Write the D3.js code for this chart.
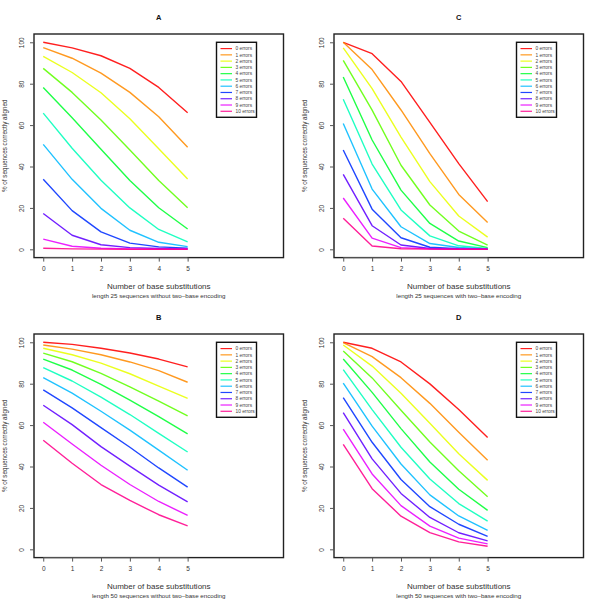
<!DOCTYPE html>
<html>
<head>
<meta charset="utf-8">
<script src="https://cdn.jsdelivr.net/npm/d3@7"></script>
<style>
  body { margin: 0; background: #fff; }
  svg { display: block; font-family: "Liberation Sans", Arial, sans-serif; }
</style>
</head>
<body>
<svg id="chart" width="600" height="600"></svg>
<script>
// ---- data ----
const substitutions = [0, 1, 2, 3, 4, 5];
const errorLabels = ["0 errors", "1 errors", "2 errors", "3 errors", "4 errors", "5 errors",
  "6 errors", "7 errors", "8 errors", "9 errors", "10 errors"];
const yTicks = [0, 20, 40, 60, 80, 100];

// % correctly aligned, one row per error count (0..10), columns = substitutions 0..5
const len25NoEnc = [
  [100, 97.3, 93.5, 87.4, 78.2, 66.0],
  [97.4, 92.3, 85.1, 75.8, 64.0, 49.3],
  [93.2, 85.4, 75.6, 63.1, 48.6, 34.0],
  [87.4, 75.8, 62.5, 48.0, 33.2, 20.1],
  [78.2, 63.5, 48.3, 33.2, 20.1, 9.8],
  [65.8, 48.8, 33.4, 20.0, 9.6, 3.6],
  [50.7, 33.8, 19.8, 9.2, 3.4, 1.3],
  [33.8, 18.7, 8.4, 3.0, 1.2, 0.6],
  [17.3, 6.8, 2.2, 0.8, 0.4, 0.2],
  [4.9, 1.5, 0.5, 0.2, 0.1, 0.0],
  [0.5, 0.2, 0.1, 0.0, 0.0, 0.0]
];
const len25Enc = [
  [100, 94.5, 81.1, 61.3, 41.4, 23.0],
  [100, 86.8, 67.3, 46.2, 26.5, 13.0],
  [97.3, 77.6, 54.2, 32.7, 16.1, 5.9],
  [91.3, 67.2, 40.6, 21.4, 8.8, 2.0],
  [83.2, 52.8, 28.6, 12.5, 4.0, 0.8],
  [72.5, 41.2, 19.0, 6.5, 1.7, 0.4],
  [60.8, 29.1, 10.9, 2.8, 0.9, 0.2],
  [48.0, 19.4, 5.6, 1.0, 0.3, 0.1],
  [36.2, 11.4, 2.1, 0.4, 0.1, 0.0],
  [24.8, 5.4, 0.8, 0.2, 0.0, 0.0],
  [15.0, 1.6, 0.3, 0.1, 0.0, 0.0]
];
const len50NoEnc = [
  [100, 99.0, 97.1, 94.8, 91.9, 88.1],
  [98.7, 96.7, 94.0, 90.5, 86.3, 80.7],
  [97.1, 94.0, 89.9, 84.8, 78.8, 72.9],
  [94.8, 90.6, 85.0, 78.5, 71.6, 64.4],
  [91.9, 86.6, 79.7, 72.1, 64.1, 55.8],
  [87.8, 81.3, 73.5, 65.1, 56.0, 47.0],
  [82.9, 75.4, 66.7, 57.6, 47.9, 38.2],
  [77.0, 68.3, 58.8, 49.3, 39.3, 30.0],
  [69.6, 60.2, 49.6, 40.2, 31.0, 22.9],
  [61.4, 50.9, 40.6, 31.3, 23.1, 16.4],
  [52.7, 41.6, 31.3, 23.6, 16.7, 11.3]
];
const len50Enc = [
  [100, 97.1, 90.5, 79.9, 67.5, 54.0],
  [99.8, 93.1, 82.9, 70.5, 56.6, 43.0],
  [98.7, 88.5, 75.4, 60.9, 46.2, 33.3],
  [95.8, 82.8, 67.2, 51.8, 37.9, 25.4],
  [91.9, 75.8, 58.3, 42.2, 29.0, 18.8],
  [86.8, 67.5, 49.3, 34.0, 22.1, 13.6],
  [80.3, 59.5, 41.2, 26.3, 16.1, 9.2],
  [73.3, 51.7, 33.7, 20.6, 12.1, 6.3],
  [66.0, 43.7, 27.0, 15.4, 8.0, 4.1],
  [58.1, 36.4, 21.1, 11.2, 5.4, 2.6],
  [50.7, 29.3, 16.0, 8.1, 3.6, 1.5]
];

const panels = [
  { label: "A", sub: "length 25 sequences without two\u2013base encoding", values: len25NoEnc, col: 0, row: 0 },
  { label: "C", sub: "length 25 sequences with two\u2013base encoding", values: len25Enc, col: 1, row: 0 },
  { label: "B", sub: "length 50 sequences without two\u2013base encoding", values: len50NoEnc, col: 0, row: 1 },
  { label: "D", sub: "length 50 sequences with two\u2013base encoding", values: len50Enc, col: 1, row: 1 }
];

// rainbow(11)
const colors = ["#FF0000", "#FF8B00", "#E8FF00", "#5DFF00", "#00FF2E", "#00FFB9",
  "#00B9FF", "#002EFF", "#5D00FF", "#E800FF", "#FF008B"];

// ---- layout ----
const svg = d3.select("#chart");
const box = { left: 34, right: 283.5, top: 34, bottom: 257.6 };
const textColor = "#333";

const x = d3.scaleLinear().domain([-0.32, 8.32]).range([box.left, box.right]);
const y = d3.scaleLinear().domain([-4, 104]).range([box.bottom, box.top]);

const line = d3.line()
  .x((d, i) => x(substitutions[i]))
  .y(d => y(d));

panels.forEach(p => {
  const g = svg.append("g")
    .attr("transform", `translate(${p.col * 300},${p.row * 300})`);

  // title
  g.append("text")
    .attr("x", (box.left + box.right) / 2)
    .attr("y", 20)
    .attr("text-anchor", "middle")
    .attr("font-size", 7.5)
    .attr("font-weight", "bold")
    .attr("fill", "#111")
    .text(p.label);

  // series
  g.append("g").selectAll("path")
    .data(p.values)
    .join("path")
    .attr("d", line)
    .attr("fill", "none")
    .attr("stroke", (d, i) => colors[i])
    .attr("stroke-opacity", 0.88)
    .attr("stroke-width", 1.4)
    .attr("stroke-linejoin", "round");

  // frame
  g.append("rect")
    .attr("x", box.left)
    .attr("y", box.top)
    .attr("width", box.right - box.left)
    .attr("height", box.bottom - box.top)
    .attr("fill", "none")
    .attr("stroke", "#222")
    .attr("stroke-width", 1.4);

  // x axis
  const xAxis = d3.axisBottom(x).tickValues(substitutions).tickSize(4).tickPadding(5);
  const gx = g.append("g")
    .attr("transform", `translate(0,${box.bottom})`)
    .call(xAxis);
  gx.select(".domain")
    .attr("d", `M${x(0)},0H${x(5)}`)
    .attr("stroke", "#555");
  gx.selectAll(".tick line").attr("stroke", "#555");
  gx.selectAll(".tick text").attr("font-size", 6.5).attr("fill", textColor)
    .attr("font-family", "Liberation Sans, Arial, sans-serif");

  // y axis
  const yAxis = d3.axisLeft(y).tickValues(yTicks).tickSize(4);
  const gy = g.append("g")
    .attr("transform", `translate(${box.left},0)`)
    .call(yAxis);
  gy.select(".domain")
    .attr("d", `M0,${y(0)}V${y(100)}`)
    .attr("stroke", "#555");
  gy.selectAll(".tick line").attr("stroke", "#555");
  gy.selectAll(".tick text")
    .attr("font-size", 6.5)
    .attr("fill", textColor)
    .attr("font-family", "Liberation Sans, Arial, sans-serif")
    .attr("x", null).attr("dy", null)
    .attr("text-anchor", "middle")
    .attr("transform", "translate(-10,0) rotate(-90)");

  // axis labels
  g.append("text")
    .attr("x", (box.left + box.right) / 2)
    .attr("y", 289)
    .attr("text-anchor", "middle")
    .attr("font-size", 8)
    .attr("fill", textColor)
    .text("Number of base substitutions");

  g.append("text")
    .attr("x", (box.left + box.right) / 2)
    .attr("y", 297.5)
    .attr("text-anchor", "middle")
    .attr("font-size", 6.2)
    .attr("fill", textColor)
    .text(p.sub);

  g.append("text")
    .attr("transform", `translate(7,${(box.top + box.bottom) / 2}) rotate(-90)`)
    .attr("text-anchor", "middle")
    .attr("font-size", 6.3)
    .attr("fill", textColor)
    .text("% of sequences correctly aligned");

  // legend, anchored at data point (6, 100)
  const lx = x(6), ly = y(100);
  const step = 6.27;
  const lg = g.append("g").attr("transform", `translate(${lx},${ly})`);
  lg.append("rect")
    .attr("x", 0).attr("y", 0)
    .attr("width", 40).attr("height", 75)
    .attr("fill", "#fff")
    .attr("stroke", "#111")
    .attr("stroke-width", 1.4);
  const items = lg.selectAll("g.item")
    .data(errorLabels)
    .join("g")
    .attr("class", "item")
    .attr("transform", (d, i) => `translate(0,${6.3 + i * step})`);
  items.append("line")
    .attr("x1", 4).attr("x2", 15.5)
    .attr("stroke", (d, i) => colors[i])
    .attr("stroke-opacity", 0.88)
    .attr("stroke-width", 1.2);
  items.append("text")
    .attr("x", 19)
    .attr("dy", "0.35em")
    .attr("font-size", 4.8)
    .attr("fill", "#444")
    .text(d => d);
});
</script>
</body>
</html>
